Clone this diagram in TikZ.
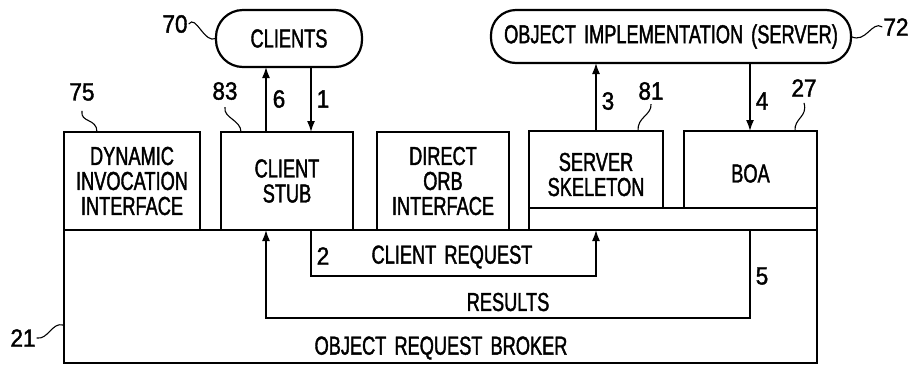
\documentclass[tikz,border=0pt]{standalone}
\usepackage{fontspec}
\setmainfont{Liberation Sans}
\newfontfamily\narrowfont{Liberation Sans}[FakeStretch=0.70, FakeBold=1.5, WordSpace=1.6]
\newfontfamily\digitfont{Liberation Sans}[FakeStretch=0.9, FakeBold=1.5]
\usetikzlibrary{arrows.meta}

\begin{document}
\begin{tikzpicture}[x=1pt,y=-1pt,
  box/.style={draw, line width=2.2pt, inner sep=0pt, outer sep=0pt},
  pill/.style={draw, line width=2.2pt, inner sep=0pt, outer sep=0pt},
  txt/.style={font=\narrowfont\fontsize{26}{25}\selectfont, align=center, inner sep=0pt},
  num/.style={font=\digitfont\fontsize{25}{25}\selectfont, inner sep=0pt},
  flow/.style={line width=1.5pt, -{Latex[length=11pt,width=8pt]}},
  lead/.style={line width=1.1pt}]

\fill[white] (0,0) rectangle (916,365);
\useasboundingbox (0,0) rectangle (916,365);

% object request broker and the interfaces sitting on it
\node[box, minimum width=753pt, minimum height=133pt] (orb) at (440.5,296.5) {};
\node[box, txt, minimum width=136pt, minimum height=98pt] (dii) at (132,181) {DYNAMIC\\INVOCATION\\INTERFACE};
\node[box, txt, minimum width=132pt, minimum height=98pt] (stub) at (287,181) {CLIENT\\STUB};
\node[box, txt, minimum width=132pt, minimum height=98pt] (doi) at (443,181) {DIRECT\\ORB\\INTERFACE};
\node[box, minimum width=288pt, minimum height=22pt] (band) at (673,219) {};
\node[box, minimum width=134pt, minimum height=77pt,
      label={[txt, yshift=-5pt]center:SERVER\\SKELETON}] (skel) at (596,169.5) {};
\node[box, minimum width=133pt, minimum height=77pt,
      label={[txt, yshift=-4pt]center:BOA}] (boa) at (750.5,169.5) {};

% clients and server
\node[pill, txt, rounded corners=27pt, minimum width=146pt, minimum height=57pt] (clients) at (289,38.5) {CLIENTS};
\node[pill, txt, rounded corners=25pt, minimum width=360pt, minimum height=53pt] (server) at (671,36.5) {OBJECT IMPLEMENTATION (SERVER)};

% columns and rows of the request flow
\coordinate (xa) at (266,0);
\coordinate (xb) at (311,0);
\coordinate (xc) at (596,0);
\coordinate (xd) at (750,0);
\coordinate (yreq) at (0,276);
\coordinate (yres) at (0,318);

\draw[flow] (xa |- stub.north) -- (xa |- clients.south);
\draw[flow] (xb |- clients.south) -- (xb |- stub.north);
\draw[flow] (xc |- skel.north) -- (xc |- server.south);
\draw[flow] (xd |- server.south) -- (xd |- boa.north);

\draw[flow] (xb |- orb.north) -- (xb |- yreq) -- (xc |- yreq) -- (xc |- band.south);
\draw[flow] (xd |- band.south) -- (xd |- yres) -- (xa |- yres) -- (xa |- orb.north);

\node[txt] (reqtext) at (452,257) {CLIENT REQUEST};
\node[txt] (restext) at (508,302) {RESULTS};
\node[txt] (orbtext) at (441,348) {OBJECT REQUEST BROKER};

% step numbers
\node[num] (n1) at (323,99) {1};
\node[num] (n2) at (323,256) {2};
\node[num] (n3) at (608,101) {3};
\node[num] (n4) at (762,101) {4};
\node[num] (n5) at (762,276) {5};
\node[num] (n6) at (279,99) {6};

% reference numerals and their leaders
\node[num] (l70) at (175,24) {70};
\node[num] (l72) at (896,27) {72};
\node[num] (l75) at (82,92) {75};
\node[num] (l83) at (225,91) {83};
\node[num] (l81) at (651,91) {81};
\node[num] (l27) at (804,88) {27};
\node[num] (l21) at (23,338) {21};

\draw[lead] ([xshift=1pt]l70.east) .. controls (196,14) and (204,44) .. (clients.west);
\draw[lead] (server.east) .. controls (866,44) and (872,20) .. ([xshift=-1pt]l72.west);
\draw[lead] ([yshift=-10pt]l75.south) .. controls (80,123) and (97,118) .. (97,132);
\draw[lead] ([yshift=-7pt]l83.south) .. controls (223,118) and (241,120) .. (241,132);
\draw[lead] ([yshift=-4pt]l81.south) .. controls (652,115) and (637,117) .. (638,131);
\draw[lead] ([yshift=-6pt]l27.south) .. controls (808,117) and (794,118) .. (795,131);
\draw[lead] ([xshift=1pt]l21.east) .. controls (48,340) and (52,322) .. (63,325);
\end{tikzpicture}
\end{document}
